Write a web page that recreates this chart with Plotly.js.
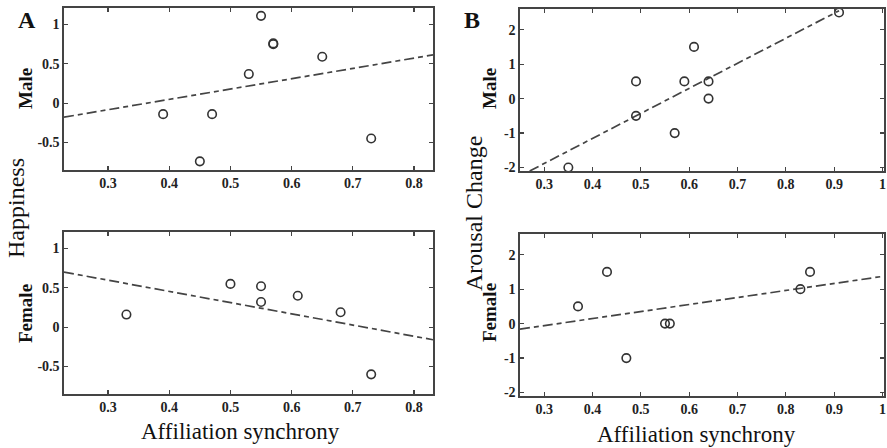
<!DOCTYPE html>
<html>
<head>
<meta charset="utf-8">
<script src="https://cdn.plot.ly/plotly-3.0.1.min.js"></script>
<style>html,body{margin:0;padding:0;background:#fff;}#chart{width:887px;height:448px;}</style>
</head>
<body>
<div id="chart"></div>
<script>
// Panel A: Happiness
const happyMaleX = [0.39, 0.45, 0.47, 0.53, 0.55, 0.57, 0.57, 0.65, 0.73];
const happyMaleY = [-0.14, -0.74, -0.14, 0.37, 1.11, 0.75, 0.76, 0.59, -0.45];
const happyFemaleX = [0.33, 0.50, 0.55, 0.55, 0.61, 0.68, 0.73];
const happyFemaleY = [0.16, 0.55, 0.52, 0.32, 0.40, 0.19, -0.60];
const happyMaleFitX = [0.228, 0.831];
const happyMaleFitY = [-0.178, 0.614];
const happyFemaleFitX = [0.228, 0.831];
const happyFemaleFitY = [0.70, -0.16];
// Panel B: Arousal change
const arousalMaleX = [0.35, 0.49, 0.49, 0.57, 0.59, 0.61, 0.64, 0.64, 0.91];
const arousalMaleY = [-2, -0.5, 0.5, -1, 0.5, 1.5, 0.5, 0, 2.5];
const arousalFemaleX = [0.37, 0.43, 0.47, 0.55, 0.56, 0.83, 0.85];
const arousalFemaleY = [0.5, 1.5, -1, 0, 0, 1, 1.5];
const arousalMaleFitX = [0.27, 0.91];
const arousalMaleFitY = [-2.1, 2.55];
const arousalFemaleFitX = [0.25, 1.0];
const arousalFemaleFitY = [-0.16, 1.37];
// Tick labels
const xTicksA = [0.3, 0.4, 0.5, 0.6, 0.7, 0.8];
const xTickTextA = ['0.3', '0.4', '0.5', '0.6', '0.7', '0.8'];
const yTicksA = [-0.5, 0, 0.5, 1];
const yTickTextA = ['-0.5', '0', '0.5', '1'];
const xTicksB = [0.3, 0.4, 0.5, 0.6, 0.7, 0.8, 0.9, 1];
const xTickTextB = ['0.3', '0.4', '0.5', '0.6', '0.7', '0.8', '0.9', '1'];
const yTicksB = [-2, -1, 0, 1, 2];
const yTickTextB = ['-2', '-1', '0', '1', '2'];

const serif = "Liberation Serif";
const ink = '#333';
const marker = {symbol: 'circle-open', size: 8.5, color: ink, line: {width: 1.6, color: ink}};
const fitLine = {color: '#444', width: 1.7, dash: '10px,4px,5px,4px'};

function pts(x, y, xa, ya) {
  return {x: x, y: y, xaxis: xa, yaxis: ya, type: 'scatter', mode: 'markers', marker: marker, hoverinfo: 'skip'};
}
function fit(x, y, xa, ya) {
  return {x: x, y: y, xaxis: xa, yaxis: ya, type: 'scatter', mode: 'lines', line: fitLine, hoverinfo: 'skip'};
}

const data = [
  fit(happyMaleFitX, happyMaleFitY, 'x', 'y'),
  pts(happyMaleX, happyMaleY, 'x', 'y'),
  fit(happyFemaleFitX, happyFemaleFitY, 'x2', 'y2'),
  pts(happyFemaleX, happyFemaleY, 'x2', 'y2'),
  fit(arousalMaleFitX, arousalMaleFitY, 'x3', 'y3'),
  pts(arousalMaleX, arousalMaleY, 'x3', 'y3'),
  fit(arousalFemaleFitX, arousalFemaleFitY, 'x4', 'y4'),
  pts(arousalFemaleX, arousalFemaleY, 'x4', 'y4')
];

const tickFont = {family: serif, size: 14, color: '#222', weight: 'bold'};
function axis(extra) {
  return Object.assign({
    showgrid: false, zeroline: false, showline: true, linecolor: '#444', linewidth: 1.6,
    mirror: 'ticks', ticks: 'inside', ticklen: 4, tickwidth: 1.2, tickcolor: '#444',
    tickmode: 'array', tickfont: tickFont, fixedrange: true
  }, extra);
}

const W = 887, H = 448;
const dxA = [64 / W, 433 / W];
const dxB = [520 / W, 884 / W];

function ann(text, px, py, size, opts) {
  return Object.assign({text: text, x: px / W, y: 1 - py / H, xref: 'paper', yref: 'paper',
    xanchor: 'center', yanchor: 'middle', showarrow: false,
    font: {family: serif, size: size, color: '#111'}}, opts || {});
}
const bold = (size) => ({family: serif, size: size, color: '#111', weight: 'bold'});

const layout = {
  width: W, height: H,
  margin: {l: 0, r: 0, t: 0, b: 0},
  font: {family: serif, color: '#222'},
  paper_bgcolor: '#fff', plot_bgcolor: '#fff',
  showlegend: false,
  xaxis: axis({domain: dxA, range: [0.228, 0.831], tickvals: xTicksA, ticktext: xTickTextA, anchor: 'y'}),
  yaxis: axis({domain: [1 - 170 / H, 1 - 8 / H], range: [-0.85, 1.21], tickvals: yTicksA, ticktext: yTickTextA, anchor: 'x'}),
  xaxis2: axis({domain: dxA, range: [0.228, 0.831], tickvals: xTicksA, ticktext: xTickTextA, anchor: 'y2'}),
  yaxis2: axis({domain: [1 - 394 / H, 1 - 232 / H], range: [-0.85, 1.21], tickvals: yTicksA, ticktext: yTickTextA, anchor: 'x2'}),
  xaxis3: axis({domain: dxB, range: [0.25, 1.003], tickvals: xTicksB, ticktext: xTickTextB, anchor: 'y3'}),
  yaxis3: axis({domain: [1 - 171 / H, 1 - 9 / H], range: [-2.1, 2.6], tickvals: yTicksB, ticktext: yTickTextB, anchor: 'x3'}),
  xaxis4: axis({domain: dxB, range: [0.25, 1.003], tickvals: xTicksB, ticktext: xTickTextB, anchor: 'y4'}),
  yaxis4: axis({domain: [1 - 396 / H, 1 - 234 / H], range: [-2.1, 2.6], tickvals: yTicksB, ticktext: yTickTextB, anchor: 'x4'}),
  annotations: [
    ann('A', 27, 20, 24, {font: bold(24)}),
    ann('B', 472, 20, 24, {font: bold(24)}),
    ann('Happiness', 16, 208, 24, {textangle: -90}),
    ann('Arousal Change', 474, 214, 24, {textangle: -90}),
    ann('Affiliation synchrony', 240, 431, 23),
    ann('Affiliation synchrony', 696, 434, 23),
    ann('Male', 25, 89, 19, {textangle: -90, font: bold(19)}),
    ann('Female', 25, 314, 19, {textangle: -90, font: bold(19)}),
    ann('Male', 489, 89, 19, {textangle: -90, font: bold(19)}),
    ann('Female', 489, 313, 19, {textangle: -90, font: bold(19)})
  ]
};

Plotly.newPlot('chart', data, layout, {staticPlot: true, displayModeBar: false});
</script>
</body>
</html>
